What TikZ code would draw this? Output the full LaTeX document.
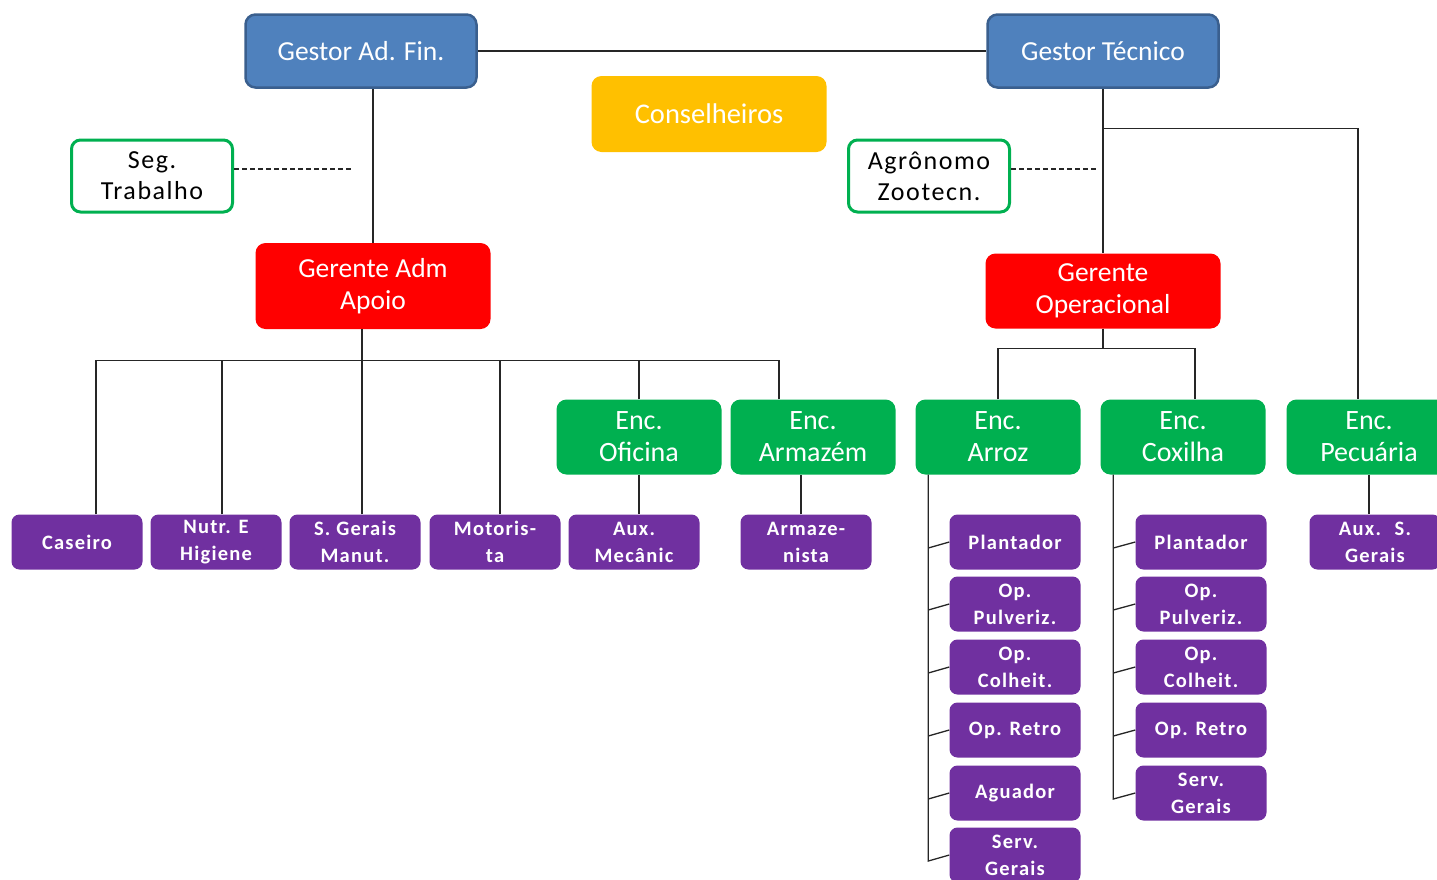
\documentclass[tikz,border=0pt]{standalone}
\usepackage{fontspec}
\setmainfont{Carlito}
\newfontfamily\spacedfont[LetterSpace=6]{Carlito}
\usetikzlibrary{positioning, calc}
\definecolor{gestblue}{HTML}{4F81BD}
\definecolor{gestedge}{HTML}{3A5F8E}
\definecolor{gerred}{HTML}{FF0000}
\definecolor{encgreen}{HTML}{00B050}
\definecolor{auxpurple}{HTML}{7030A0}
\definecolor{conyellow}{HTML}{FFC000}

\begin{document}
\begin{tikzpicture}[x=1pt, y=-1pt,
  gbox/.style={draw=gestedge, line width=2.5pt, fill=gestblue, rounded corners=10pt, inner sep=0pt, minimum width=231pt, minimum height=73pt, text=white, font=\fontsize{27.5}{32}\selectfont},
  rbox/.style={fill=gerred, rounded corners=10pt, inner sep=0pt, minimum width=235pt, align=center, text=white, font=\fontsize{27.5}{32}\selectfont},
  ebox/.style={fill=encgreen, rounded corners=10pt, inner sep=0pt, minimum width=165pt, minimum height=75pt, align=center, text=white, font=\fontsize{28}{32}\selectfont},
  sbox/.style={draw=encgreen, line width=3pt, fill=white, rounded corners=9pt, inner sep=0pt, minimum width=161pt, minimum height=72pt, align=center, font=\spacedfont\fontsize{26}{31}\selectfont},
  pbox/.style={fill=auxpurple, rounded corners=8pt, inner sep=0pt, minimum width=131pt, minimum height=55pt, align=center, text=white, font=\spacedfont\bfseries\fontsize{20.5}{27}\selectfont},
  link/.style={draw=black!85, line width=1.3pt}
]
  \path[use as bounding box] (0,0) rectangle (1437,879);
  \clip (0,0) rectangle (1437,879);

  % top level
  \node[gbox] (gadm) at (361,51) {Gestor Ad. Fin.};
  \node[gbox] (gtec) at (1103,51) {Gestor Técnico};
  \node[fill=conyellow, rounded corners=10pt, inner sep=0pt, minimum width=235pt, minimum height=76pt, text=white, font=\fontsize{28.5}{32}\selectfont] (cons) at (709,114) {Conselheiros};
  \node[sbox] (seg) at (152,176) {Seg.\\Trabalho};
  \node[sbox] (agro) at (929,176) {Agrônomo\\Zootecn.};

  % gerentes
  \node[rbox, minimum height=86pt] (gerad) at (373,286) {Gerente Adm\\Apoio};
  \node[rbox, minimum height=75pt] (gerop) at (1103,291) {Gerente\\Operacional};

  % encarregados
  \node[ebox] (ofic) at (639,437) {Enc.\\Oficina};
  \node[ebox] (armz) at (813,437) {Enc.\\Armazém};
  \node[ebox] (arroz) at (998,437) {Enc.\\Arroz};
  \node[ebox] (coxi) at (1183,437) {Enc.\\Coxilha};
  \node[ebox] (pecu) at (1369,437) {Enc.\\Pecuária};

  % apoio
  \node[pbox] (caseiro) at (77,542) {Caseiro};
  \node[pbox] (nutr) at (216,542) {Nutr. E\\Higiene};
  \node[pbox] (sgerais) at (355,542) {S. Gerais\\Manut.};
  \node[pbox] (motor) at (495,542) {Motoris-\\ta};
  \node[pbox] (auxmec) at (634,542) {Aux.\\Mecânic};
  \node[pbox] (armzn) at (806,542) {Armaze-\\nista};
  \node[pbox] (auxsg) at (1375,542) {Aux.~ S.\\Gerais};

  % arroz
  \node[pbox] (plantA) at (1015,542) {Plantador};
  \node[pbox] (pulvA) at (1015,604) {Op.\\Pulveriz.};
  \node[pbox] (colhA) at (1015,667) {Op.\\Colheit.};
  \node[pbox] (retroA) at (1015,730) {Op. Retro};
  \node[pbox] (aguaA) at (1015,793) {Aguador};
  \node[pbox] (servA) at (1015,855) {Serv.\\Gerais};

  % coxilha
  \node[pbox] (plantC) at (1201,542) {Plantador};
  \node[pbox] (pulvC) at (1201,604) {Op.\\Pulveriz.};
  \node[pbox] (colhC) at (1201,667) {Op.\\Colheit.};
  \node[pbox] (retroC) at (1201,730) {Op. Retro};
  \node[pbox] (servC) at (1201,793) {Serv.\\Gerais};

  % connectors
  \draw[link] (gadm.east) -- (gtec.west);
  \draw[link] (gadm.south -| gerad.north) -- (gerad.north);
  \draw[link, dashed, dash pattern=on 5pt off 3pt] ([yshift=7pt]seg.east) -- ++(117,0);
  \draw[link, dashed, dash pattern=on 5pt off 3pt] ([yshift=7pt]agro.east) -- ++(85,0);

  \coordinate (busA) at ($(gerad.south)+(0,31)$);
  \draw[link] ([xshift=7pt]sgerais.north) -- ([xshift=7pt]sgerais.north |- gerad.south);
  \draw[link] ([xshift=19pt]caseiro.north |- busA) -- ([xshift=-34pt]armz.north |- busA);
  \foreach \n/\dx in {caseiro/19, nutr/6, motor/5, ofic/0, armz/-34}
    \draw[link] ([xshift=\dx pt]\n.north) -- ([xshift=\dx pt]\n.north |- busA);
  \draw[link] (ofic.south) -- (ofic.south |- auxmec.north);
  \draw[link] ([xshift=-5pt]armzn.north) -- ([xshift=-5pt]armzn.north |- armz.south);

  \coordinate (busT) at ($(gtec.south)+(0,40)$);
  \draw[link] (gtec.south) -- (gerop.north);
  \draw[link] (busT) -| ([xshift=-11pt]pecu.north);
  \draw[link] (pecu.south) -- (pecu.south |- auxsg.north);

  \coordinate (busB) at ($(gerop.south)+(0,20)$);
  \draw[link] (gerop.south) -- (busB);
  \draw[link] (arroz.north) |- (busB) -| ([xshift=12pt]coxi.north);

  \coordinate (spA) at ([xshift=13pt]arroz.south west);
  \draw[link] (spA) -- ($(spA |- servA.west)+(0,6)$) -- (servA.west);
  \foreach \c in {plantA, pulvA, colhA, retroA, aguaA}
    \draw[link] ($(spA |- \c.west)+(0,6)$) -- (\c.west);

  \coordinate (spC) at ([xshift=13pt]coxi.south west);
  \draw[link] (spC) -- ($(spC |- servC.west)+(0,6)$) -- (servC.west);
  \foreach \c in {plantC, pulvC, colhC, retroC}
    \draw[link] ($(spC |- \c.west)+(0,6)$) -- (\c.west);
\end{tikzpicture}
\end{document}
